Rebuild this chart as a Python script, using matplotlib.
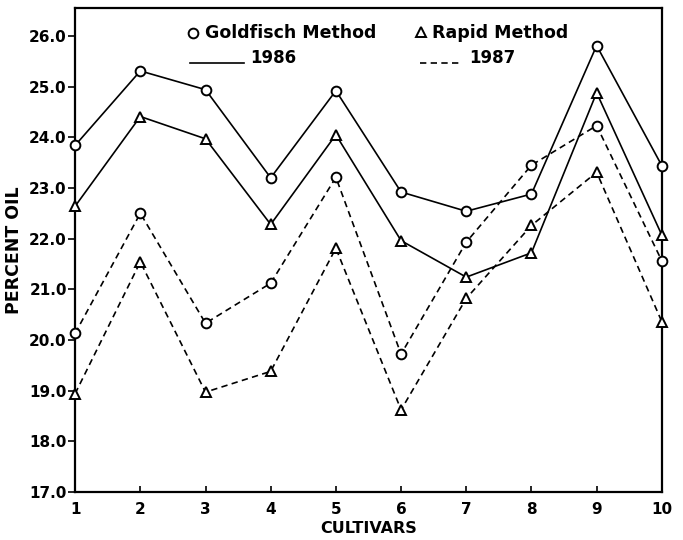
import numpy as np
import matplotlib
matplotlib.use('Agg')
import matplotlib.pyplot as plt

cultivars = [1, 2, 3, 4, 5, 6, 7, 8, 9, 10]

# percent oil
gold_1986 = [23.84, 25.31, 24.94, 23.20, 24.92, 22.92, 22.54, 22.88, 25.81, 23.44]
rapid_1986 = [22.64, 24.41, 23.97, 22.28, 24.05, 21.96, 21.24, 21.72, 24.88, 22.07]
gold_1987 = [20.13, 22.50, 20.33, 21.12, 23.21, 19.72, 21.93, 23.45, 24.23, 21.56]
rapid_1987 = [18.94, 21.54, 18.97, 19.38, 21.81, 18.62, 20.82, 22.26, 23.31, 20.36]

y_ticks = [17.0, 18.0, 19.0, 20.0, 21.0, 22.0, 23.0, 24.0, 25.0, 26.0]

plt.rcParams['font.family'] = 'DejaVu Sans'
plt.rcParams['font.weight'] = 'bold'

fig = plt.figure(figsize=(6.83, 5.40), dpi=100)
ax = fig.add_axes([0.110, 0.089, 0.859, 0.896])

lw = 1.2
mk = dict(markersize=7, markerfacecolor='white', markeredgecolor='black',
          markeredgewidth=1.4, color='black', linewidth=lw, clip_on=False, zorder=3)
dash = (3.8, 2.6)

ax.plot(cultivars, gold_1986, marker='o', linestyle='-', **mk)
ax.plot(cultivars, rapid_1986, marker='^', linestyle='-', **mk)
ax.plot(cultivars, gold_1987, marker='o', linestyle='--', dashes=dash, **mk)
ax.plot(cultivars, rapid_1987, marker='^', linestyle='--', dashes=dash, **mk)

ax.set_xlim(1, 10)
ax.set_ylim(17.0, 26.55)
ax.set_xticks(cultivars)
ax.set_yticks(y_ticks)
ax.set_yticklabels([f'{v:.1f}' for v in y_ticks])

for s in ax.spines.values():
    s.set_linewidth(1.6)

ax.tick_params(axis='x', direction='in', length=4, width=1.2, pad=7, labelsize=11)
ax.tick_params(axis='y', direction='out', length=5, width=1.2, pad=1, labelsize=11)
for lab in ax.get_xticklabels() + ax.get_yticklabels():
    lab.set_fontweight('bold')

ax.set_xlabel('CULTIVARS', fontsize=11.5, fontweight='bold', labelpad=3)
ax.set_ylabel('PERCENT OIL', fontsize=12.5, fontweight='bold', labelpad=4)

# legend drawn in the style of the original
tr = ax.transAxes
ax.plot([0.201], [0.948], marker='o', markersize=7, markerfacecolor='white',
        markeredgecolor='black', markeredgewidth=1.4, transform=tr)
ax.text(0.221, 0.948, 'Goldfisch Method', transform=tr, fontsize=12.5,
        fontweight='bold', va='center', ha='left')
ax.plot([0.590], [0.950], marker='^', markersize=7, markerfacecolor='white',
        markeredgecolor='black', markeredgewidth=1.4, transform=tr)
ax.text(0.608, 0.948, 'Rapid Method', transform=tr, fontsize=12.5,
        fontweight='bold', va='center', ha='left')
ax.plot([0.196, 0.288], [0.886, 0.886], color='black', linewidth=lw, transform=tr)
ax.text(0.298, 0.896, '1986', transform=tr, fontsize=12,
        fontweight='bold', va='center', ha='left')
ax.plot([0.588, 0.660], [0.886, 0.886], color='black', linewidth=lw,
        linestyle='--', dashes=dash, transform=tr)
ax.text(0.672, 0.896, '1987', transform=tr, fontsize=12,
        fontweight='bold', va='center', ha='left')

fig.savefig('out.png', dpi=100)
